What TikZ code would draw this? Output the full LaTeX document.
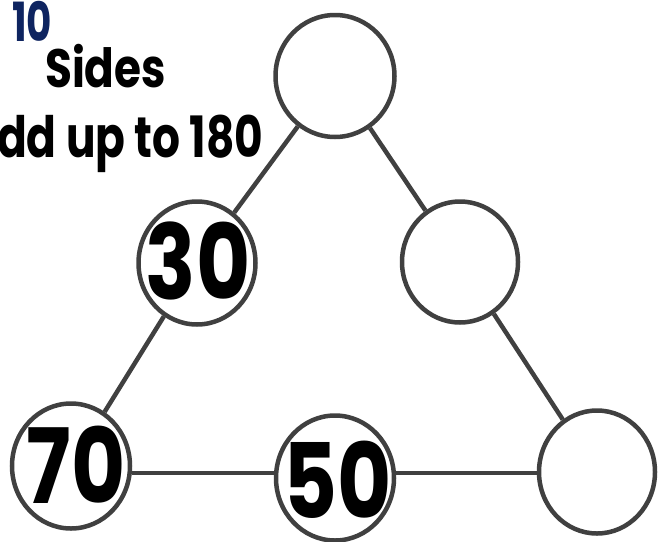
\documentclass[tikz,border=0pt]{standalone}
\usepackage{fontspec}
\setmainfont{Poppins}
\usetikzlibrary{shapes.geometric}
\definecolor{lineg}{RGB}{64,64,64}
\definecolor{navy}{RGB}{14,36,96}
\begin{document}
\begin{tikzpicture}[x=1pt,y=-1pt,
  ring/.style={ellipse,draw=lineg,line width=4.5pt,inner sep=0pt},
  conn/.style={draw=lineg,line width=4.5pt},
  big/.style={font=\fontsize{104}{104}\selectfont\bfseries,inner sep=0pt,anchor=base,xscale=0.8},
  txt/.style={inner sep=0pt,anchor=base west}]
\useasboundingbox (0,0) rectangle (669,541);
\node[ring,minimum width=119pt,minimum height=122pt] (T) at (335,76) {};
\node[ring,minimum width=117pt,minimum height=123pt] (L) at (197,263) {};
\node[ring,minimum width=116pt,minimum height=121pt] (R) at (460,262) {};
\node[ring,minimum width=118pt,minimum height=125pt] (B70) at (71,466) {};
\node[ring,minimum width=118pt,minimum height=125pt] (B50) at (335,478) {};
\node[ring,minimum width=116pt,minimum height=123pt] (BR) at (597,472) {};
\draw[conn] (T) -- (L);
\draw[conn] (L) -- (B70);
\draw[conn] (T) -- (R);
\draw[conn] (R) -- (BR);
\draw[conn] ([yshift=-7pt]B70.east) -- ([yshift=5pt]B50.west);
\draw[conn] ([yshift=5pt]B50.east) -- ([yshift=-1pt]BR.west);
\node[big] (n30) at (198,299) {30};
\node[big] (n70) at (76,503) {70};
\node[big] (n50) at (338,518) {50};
\node[txt,text=navy,font=\fontsize{54}{54}\selectfont\bfseries,xscale=0.72] (ten) at (12,41) {10};
\node[txt,font=\fontsize{54}{54}\selectfont\bfseries,xscale=0.81] (sides) at (45,87) {Sides};
\node[txt,font=\fontsize{57}{57}\selectfont\bfseries,xscale=0.77] (add) at (-3,157) {dd up to 180};
\end{tikzpicture}
\end{document}
